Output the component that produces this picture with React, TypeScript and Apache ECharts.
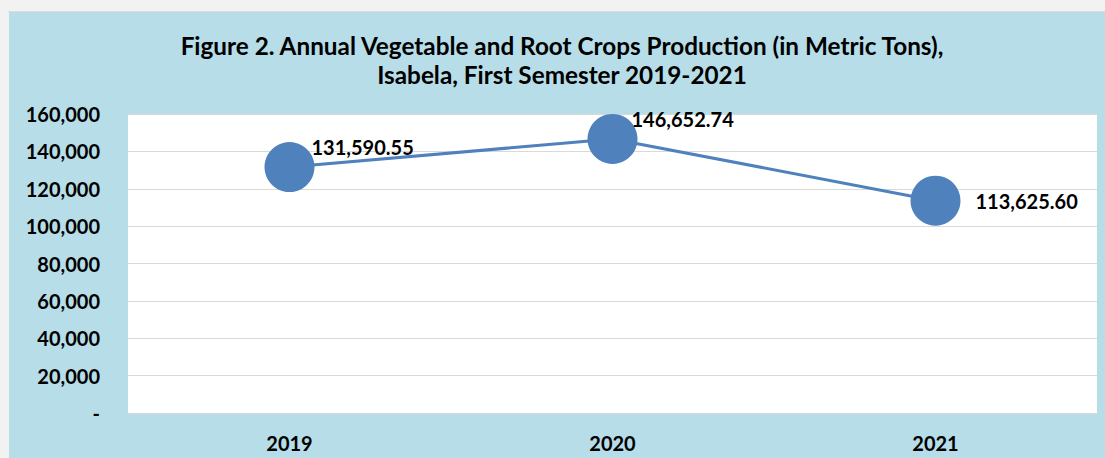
import React, { useEffect, useRef } from "react";
import * as echarts from "echarts";

const titleLines = [
  "Figure 2. Annual Vegetable and Root Crops Production (in Metric Tons),",
  "Isabela, First Semester 2019-2021",
];
const years = ["2019", "2020", "2021"];
const production = [131590.55, 146652.74, 113625.6];
const yTicks = [0, 20000, 40000, 60000, 80000, 100000, 120000, 140000, 160000];

const FONT = "Lato";

const labelStyles = [
  { position: "right", distance: 0, offset: [-3, -20] },
  { position: "right", distance: 0, offset: [-6, -20] },
  { position: "right", distance: 15, offset: [0, 0] },
];

const fmtNum = (v: number) =>
  v.toLocaleString("en-US", { minimumFractionDigits: 2, maximumFractionDigits: 2 });

export default function App() {
  const ref = useRef<HTMLDivElement>(null);
  useEffect(() => {
    if (!ref.current) return;
    const chart = echarts.init(ref.current, undefined, { renderer: "svg" });
    chart.setOption({
      animation: false,
      backgroundColor: "#b7dde8",
      graphic: titleLines.map((t, i) => ({
        type: "text",
        x: 553,
        y: 33 + i * 29,
        style: {
          text: t,
          fontFamily: FONT,
          fontWeight: "bold",
          fontSize: 24.3,
          fill: "#000",
          textAlign: "center",
          textVerticalAlign: "middle",
        },
      })),
      grid: { left: 119, right: 8, top: 102, bottom: 45, backgroundColor: "#fff", show: true, borderWidth: 0 },
      xAxis: {
        type: "category",
        data: years,
        boundaryGap: true,
        axisLine: { lineStyle: { color: "#d9d9d9", width: 1 } },
        axisTick: { show: false },
        axisLabel: { fontFamily: FONT, fontWeight: "bold", fontSize: 20, color: "#000", margin: 20 },
      },
      yAxis: {
        type: "value",
        min: yTicks[0],
        max: yTicks[yTicks.length - 1],
        interval: yTicks[1] - yTicks[0],
        axisLine: { show: false },
        axisTick: { show: false },
        splitLine: { lineStyle: { color: "#d9d9d9", width: 1 } },
        axisLabel: {
          fontFamily: FONT,
          fontWeight: "bold",
          fontSize: 20,
          color: "#000",
          margin: 28,
          formatter: (v: number) => (v === 0 ? "-" : v.toLocaleString("en-US")),
        },
      },
      series: [
        {
          type: "line",
          data: production.map((v, i) => ({
            value: v,
            label: labelStyles[i],
          })),
          symbol: "circle",
          symbolSize: 50,
          lineStyle: { color: "#4f81bd", width: 3 },
          itemStyle: { color: "#4f81bd" },
          label: {
            show: true,
            fontFamily: FONT,
            fontWeight: "bold",
            fontSize: 20,
            color: "#000",
            verticalAlign: "middle",
            align: "left",
            formatter: (p: any) => fmtNum(p.value),
          },
        },
      ],
    });
    return () => chart.dispose();
  }, []);
  return (
    <div style={{ position: "absolute", left: 0, top: 0, width: 1105, height: 458, background: "#f2f2f2", overflow: "hidden" }}>
      <div style={{ position: "absolute", left: 8, top: 11, width: 1097, height: 1, background: "#dcdcdc" }} />
      <div ref={ref} style={{ position: "absolute", left: 9, top: 12, width: 1096, height: 446 }} />
    </div>
  );
}
